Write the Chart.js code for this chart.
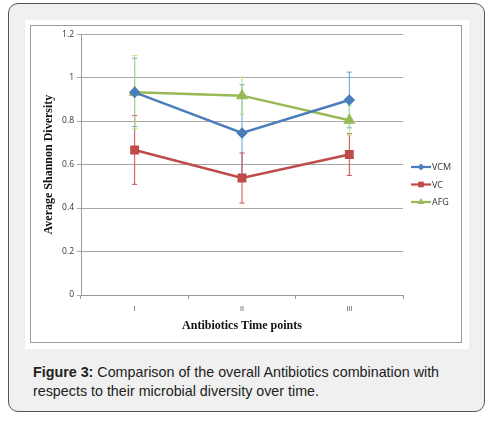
<!DOCTYPE html>
<html lang="en">
<head>
<meta charset="UTF-8">
<title>Figure 3</title>
<style>
  body {
    margin: 0;
    background: #fff;
    font-family: "Liberation Sans", Arial, sans-serif;
  }
  .card {
    position: absolute;
    left: 8px;
    top: 3px;
    width: 475px;
    height: 407px;
    background: #f0f0f0;
    border: 1px solid #555;
    border-radius: 10px;
  }
  .panel {
    position: absolute;
    left: 16px;
    top: 16px;
    width: 444px;
    height: 329px;
    background: #fff;
  }
  .frame {
    position: absolute;
    left: 5px;
    top: 5px;
    width: 430px;
    height: 316px;
    border: 1px solid #9a9a9a;
  }
  .caption {
    position: absolute;
    left: 24px;
    top: 359px;
    width: 450px;
    font-size: 14.3px;
    line-height: 19px;
    color: #222;
  }
</style>
<script src="https://cdn.jsdelivr.net/npm/chart.js"></script>
</head>
<body>

<div class="card">
  <div class="panel">
    <div class="frame">
      <canvas id="chart" width="430" height="316"></canvas>
    </div>
  </div>
  <div class="caption"><b>Figure 3:</b> Comparison of the overall Antibiotics combination with respects to their microbial diversity over time.</div>
</div>

<script>
// data
var timePoints = ['I', 'II', 'III'];
var vcm = [0.932, 0.745, 0.897];
var vcmErr = [0.157, 0.222, 0.128];
var vc = [0.667, 0.538, 0.646];
var vcErr = [0.158, 0.115, 0.096];
var afg = [0.933, 0.917, 0.804];
var afgErr = [0.168, 0.085, 0.068];
var yTicks = [0, 0.2, 0.4, 0.6, 0.8, 1, 1.2];

// draws the +/- error bars from the y scale
var errorBars = {
  id: 'errorBars',
  beforeDatasetsDraw: function(chart) {
    var ctx = chart.ctx;
    var y = chart.scales.y;
    chart.data.datasets.forEach(function(ds, i) {
      var meta = chart.getDatasetMeta(i);
      ctx.save();
      ctx.strokeStyle = ds.errColor;
      ctx.lineWidth = 1;
      meta.data.forEach(function(pt, j) {
        var top = y.getPixelForValue(ds.data[j] + ds.err[j]);
        var bot = y.getPixelForValue(ds.data[j] - ds.err[j]);
        ctx.beginPath();
        ctx.moveTo(pt.x, top);
        ctx.lineTo(pt.x, bot);
        ctx.moveTo(pt.x - 2.5, top);
        ctx.lineTo(pt.x + 2.5, top);
        ctx.moveTo(pt.x - 2.5, bot);
        ctx.lineTo(pt.x + 2.5, bot);
        ctx.stroke();
      });
      ctx.restore();
    });
  }
};

// legend beside the plot, Excel style
var sideLegend = {
  id: 'sideLegend',
  afterDraw: function(chart) {
    var ctx = chart.ctx;
    var x0 = chart.chartArea.right + 8;
    var y0 = 141;
    chart.data.datasets.forEach(function(ds, i) {
      var yy = y0 + i * 17.5;
      ctx.save();
      ctx.strokeStyle = ds.borderColor;
      ctx.lineWidth = 2.2;
      ctx.beginPath();
      ctx.moveTo(x0, yy);
      ctx.lineTo(x0 + 20, yy);
      ctx.stroke();
      ctx.fillStyle = ds.backgroundColor;
      Chart.helpers.drawPoint(ctx, {pointStyle: ds.pointStyle, radius: ds.pointRadius - 0.5, borderWidth: 0}, x0 + 10, yy);
      ctx.fillStyle = '#333';
      ctx.font = '9px "Open Sans", sans-serif';
      ctx.textBaseline = 'middle';
      ctx.fillText(ds.label, x0 + 21, yy + 0.5);
      ctx.restore();
    });
  }
};

new Chart(document.getElementById('chart'), {
  type: 'line',
  data: {
    labels: timePoints,
    datasets: [
      { label: 'VCM', data: vcm, err: vcmErr, borderColor: '#4a7ebb', backgroundColor: '#4a7ebb',
        errColor: '#5aa3de', pointStyle: 'rectRot', pointRadius: 4, borderWidth: 2.5 },
      { label: 'VC', data: vc, err: vcErr, borderColor: '#be4b48', backgroundColor: '#be4b48',
        errColor: '#d24a4a', pointStyle: 'rect', pointRadius: 4.5, borderWidth: 2.5 },
      { label: 'AFG', data: afg, err: afgErr, borderColor: '#98b954', backgroundColor: '#98b954',
        errColor: '#b4e27f', pointStyle: 'triangle', pointRadius: 4.5, borderWidth: 2.5 }
    ]
  },
  options: {
    responsive: false,
    animation: false,
    layout: { padding: { top: 6, right: 58, left: 0, bottom: 5 } },
    elements: { line: { tension: 0 }, point: { borderWidth: 0 } },
    plugins: { legend: { display: false }, tooltip: { enabled: false } },
    scales: {
      x: {
        offset: true,
        grid: { offset: true, drawOnChartArea: false, tickLength: 4, color: '#9a9a9a' },
        border: { color: '#9a9a9a' },
        ticks: { color: '#444', font: { size: 7, family: '"Open Sans", sans-serif' }, padding: 6 },
        title: { display: true, text: 'Antibiotics Time points', color: '#111',
          font: { size: 12, weight: 'bold', family: '"Liberation Serif", "Times New Roman", serif' }, padding: { top: 2 } },
        afterFit: function(s) { s.height = 42; }
      },
      y: {
        min: 0,
        max: 1.2,
        afterBuildTicks: function(s) { s.ticks = yTicks.map(function(v) { return { value: v }; }); },
        grid: { color: '#a8a8a8', tickLength: 4 },
        border: { color: '#9a9a9a' },
        ticks: { color: '#333', font: { size: 8.5, family: '"Open Sans", sans-serif' }, padding: 3,
          callback: function(v) { return String(v); } },
        title: { display: true, text: 'Average Shannon Diversity', color: '#111',
          font: { size: 12, weight: 'bold', family: '"Liberation Serif", "Times New Roman", serif' }, padding: { top: 11, bottom: 0 } },
        afterFit: function(s) { s.width = 50; }
      }
    }
  },
  plugins: [errorBars, sideLegend]
});
</script>

</body>
</html>
